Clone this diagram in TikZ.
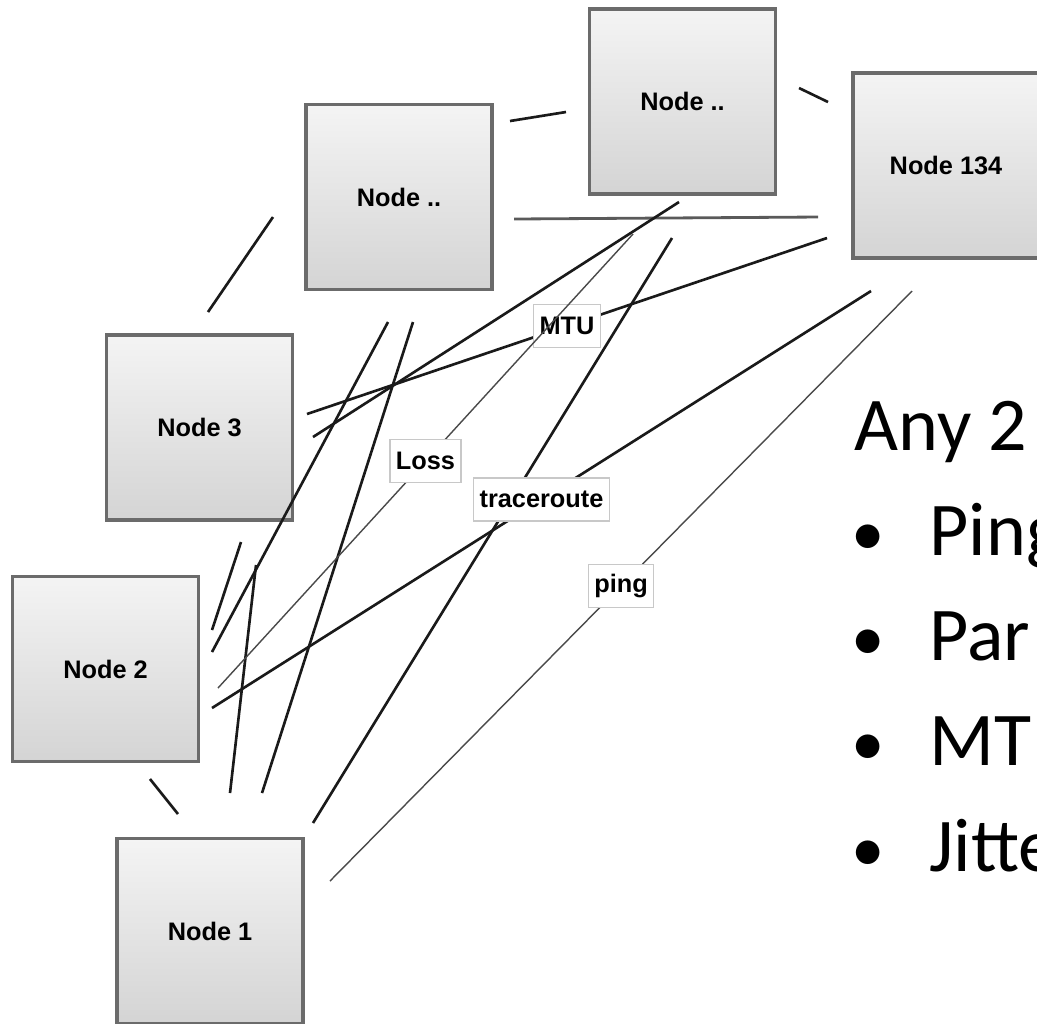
\documentclass[tikz,border=0pt]{standalone}
\usepackage{fontspec}
\setmainfont{Liberation Sans}
\newfontfamily\slidefont{Carlito}
\definecolor{boxedge}{HTML}{6B6B6B}
\definecolor{boxtop}{HTML}{F4F4F4}
\definecolor{boxbot}{HTML}{D4D4D4}
\definecolor{tagedge}{HTML}{C8C8C8}
\definecolor{linkdark}{HTML}{1A1A1A}
\definecolor{linkthin}{HTML}{4A4A4A}
\definecolor{linkgray}{HTML}{5A5A5A}
\tikzset{
  box/.style={draw=boxedge, line width=1pt, top color=boxtop, bottom color=boxbot,
    minimum width=1.86cm, minimum height=1.85cm, inner sep=0pt,
    font=\fontsize{7.2}{8.6}\selectfont\bfseries},
  tag/.style={draw=tagedge, line width=0.4pt, fill=white, inner xsep=0.06cm,
    inner ysep=0pt, minimum height=0.43cm,
    font=\fontsize{7.2}{8.6}\selectfont\bfseries},
  link/.style={draw=linkdark, line width=0.75pt},
  thinlink/.style={draw=linkthin, line width=0.4pt},
  slide/.style={anchor=base west, inner sep=0pt,
    font=\slidefont\fontsize{21.6}{26}\selectfont},
  dot/.style={anchor=base, inner sep=0pt,
    font=\slidefont\fontsize{19}{26}\selectfont},
}

\begin{document}
\begin{tikzpicture}[x=0.01cm, y=-0.01cm]
    \useasboundingbox (0,0) rectangle (1037,1023);
    \clip (0,0) rectangle (1037,1023);

    % the nodes
    \node[box] (node3)   at (199.5,427.5) {Node 3};
    \node[box] (nodeA)   at (399,197)     {Node ..};
    \node[box] (nodeB)   at (682.5,101.5) {Node ..};
    \node[box] (node134) at (946,165.5)   {Node 134};
    \node[box] (node2)   at (105.5,669)   {Node 2};
    \node[box] (node1)   at (210,931)     {Node 1};

    % loose ends of the links, e3-a = end at Node 3 of the link to Node A
    \foreach \name/\x/\y in {e3-a/208/312, ea-3/273/217,
        ea-b/510/121, eb-a/566/112, eb-134/799/88, e134-b/828/102,
        ea-134/514/219, e134-a/818/217, e2-1/150/779, e1-2/178/814,
        e3-134/307/414, e134-3/827/238, e3-b/313/437, eb-3/679/202,
        ea-2/388/322, e2-a/212/652, ea-1/413/322, e1-a/262/793,
        e3-2/241/542, e2-3/212/630, e3-1/256/565, e1-3/230/793,
        e2-b/218/688, eb-2/633/234, e2-134/212/708, e134-2/871/291,
        e1-b/313/823, eb-1/672/238, e1-134/330/881, e134-1/912/291}
        \coordinate (\name) at (\x,\y);

    \draw[link] (e3-a) -- (ea-3);
    \draw[link] (ea-b) -- (eb-a);
    \draw[link] (eb-134) -- (e134-b);
    \draw[draw=linkgray, line width=0.8pt] (ea-134) -- (e134-a);
    \draw[link] (e2-1) -- (e1-2);
    \draw[link] (e3-b) -- (eb-3);
    \draw[link] (ea-2) -- (e2-a);
    \draw[link] (ea-1) -- (e1-a);
    \draw[link] (e3-2) -- (e2-3);
    \draw[link] (e3-1) -- (e1-3);
    \draw[link] (e1-b) -- (eb-1);
    \draw[link] (e3-134) -- node[tag] (mtu) {MTU} (e134-3);
    \draw[thinlink] (e2-b) -- node[tag] (loss) {Loss} (eb-2);
    \draw[link] (e2-134) -- node[tag] (trace) {traceroute} (e134-2);
    \draw[thinlink] (e1-134) -- node[tag] (ping) {ping} (e134-1);

    % slide text, cut off at the right edge
    \node[slide] (any) at (854,450) {Any 2};
    \foreach \word/\y in {Ping/555, Par/660, MT/765, Jitte/871} {
        \node[dot] (dot-\word) at (868,\y) {•};
        \node[slide] (item-\word) at (929,\y) {\word};
    }
\end{tikzpicture}
\end{document}
